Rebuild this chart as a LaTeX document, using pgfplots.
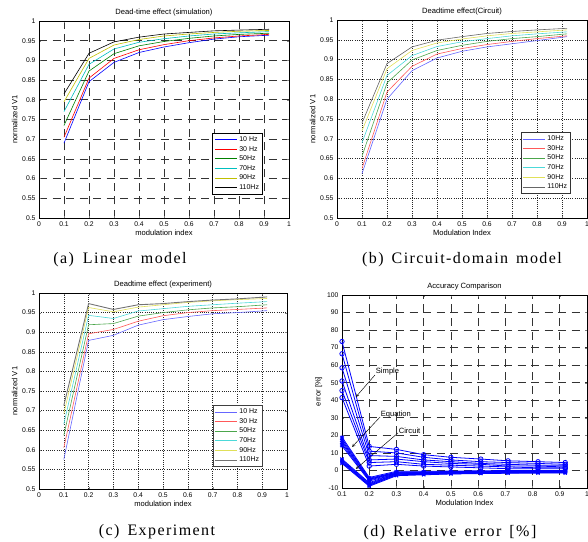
\documentclass[border=0pt]{standalone}
\usepackage{fontspec}
\setmainfont{Liberation Serif}
\newfontfamily\chartfont{Liberation Sans}
\newfontfamily\capfont[LetterSpace=9]{Liberation Serif}
\usepackage{pgfplots}
\pgfplotsset{compat=1.18}

\definecolor{mgreen}{rgb}{0,0.5,0}
\definecolor{mcyan}{rgb}{0,0.75,0.75}
\definecolor{myellow}{rgb}{0.75,0.75,0}
\definecolor{lblue}{rgb}{0.4,0.4,1}
\definecolor{lred}{rgb}{1,0.35,0.35}
\definecolor{lgreen}{rgb}{0.3,0.65,0.3}
\definecolor{lcyan}{rgb}{0.3,0.85,0.85}
\definecolor{lyellow}{rgb}{0.88,0.88,0.35}
\definecolor{lgray}{rgb}{0.4,0.4,0.4}

\pgfplotsset{
  mat/.style={
    scale only axis,
    font=\chartfont\fontsize{7.6}{8.6}\selectfont,
    /pgf/number format/assume math mode=true,
    tick label style={font=\chartfont\fontsize{6.8}{7.5}\selectfont},
    xmin=0, xmax=1, ymin=0.5, ymax=1,
    xtick={0,0.1,0.2,0.3,0.4,0.5,0.6,0.7,0.8,0.9,1},
    ytick={0.5,0.55,0.6,0.65,0.7,0.75,0.8,0.85,0.9,0.95,1},
    yticklabel style={/pgf/number format/fixed},
    tick align=inside,
    major tick length=2pt,
    grid=major,
    axis line style={black, line width=0.5pt},
    title style={yshift=-5pt},
    xlabel style={yshift=3pt},
    ylabel style={yshift=-2pt},
    legend cell align=left,
    legend style={font=\chartfont\fontsize{7}{8}\selectfont, inner sep=1.5pt,
      row sep=-0.8pt},
    legend image code/.code={\draw[#1] (0pt,0pt) -- (22pt,0pt);},
    legend image post style={line width=1pt},
    every axis plot/.append style={line width=0.6pt},
  },
  dashgrid/.style={major grid style={black!80, dash pattern=on 8pt off 5.5pt, line width=0.75pt}},
  dotgrid/.style={major grid style={black!85, dash pattern=on 0.8pt off 1.4pt, line width=0.55pt}},
}

\begin{document}
\begin{tikzpicture}
\path[use as bounding box] (0,0) rectangle (588pt,541pt);
\clip (0,0) rectangle (588pt,541pt);

% (a) linear model
\begin{axis}[mat, dashgrid, at={(39pt,323pt)}, anchor=south west,
  width=250pt, height=197pt,
  title={Dead-time effect (simulation)},
  xlabel={modulation index}, ylabel={normalized V1},
  legend style={at={(0.896,0.117)}, anchor=south east, draw=black, line width=1pt}]
\addplot[blue] coordinates {(0.1,0.690)(0.2,0.846)(0.3,0.895)(0.4,0.920)(0.5,0.934)(0.6,0.945)(0.7,0.954)(0.8,0.960)(0.92,0.964)};
\addlegendentry{10 Hz}
\addplot[red] coordinates {(0.1,0.705)(0.2,0.855)(0.3,0.905)(0.4,0.927)(0.5,0.940)(0.6,0.950)(0.7,0.957)(0.8,0.962)(0.92,0.966)};
\addlegendentry{30 Hz}
\addplot[mgreen] coordinates {(0.1,0.735)(0.2,0.873)(0.3,0.917)(0.4,0.937)(0.5,0.948)(0.6,0.956)(0.7,0.962)(0.8,0.966)(0.92,0.969)};
\addlegendentry{50Hz}
\addplot[mcyan] coordinates {(0.1,0.770)(0.2,0.890)(0.3,0.929)(0.4,0.946)(0.5,0.955)(0.6,0.962)(0.7,0.967)(0.8,0.970)(0.92,0.973)};
\addlegendentry{70Hz}
\addplot[myellow] coordinates {(0.1,0.795)(0.2,0.905)(0.3,0.939)(0.4,0.953)(0.5,0.962)(0.6,0.967)(0.7,0.971)(0.8,0.974)(0.92,0.976)};
\addlegendentry{90Hz}
\addplot[black] coordinates {(0.1,0.815)(0.2,0.918)(0.3,0.947)(0.4,0.959)(0.5,0.967)(0.6,0.971)(0.7,0.975)(0.8,0.977)(0.92,0.979)};
\addlegendentry{110Hz}
\end{axis}

% (b) circuit-domain model
\begin{axis}[mat, dotgrid, at={(337pt,323pt)}, anchor=south west,
  width=250pt, height=198pt,
  title={Deadtime effect(Circuit)},
  xlabel={Modulation Index}, ylabel={normalized V1},
  legend style={at={(0.936,0.121)}, anchor=south east, draw=black!80, line width=0.6pt}]
\addplot[lblue] coordinates {(0.1,0.612)(0.2,0.800)(0.3,0.872)(0.4,0.904)(0.5,0.921)(0.6,0.932)(0.7,0.940)(0.8,0.948)(0.92,0.958)};
\addlegendentry{10Hz}
\addplot[lred] coordinates {(0.1,0.625)(0.2,0.818)(0.3,0.883)(0.4,0.914)(0.5,0.928)(0.6,0.938)(0.7,0.946)(0.8,0.953)(0.92,0.960)};
\addlegendentry{30Hz}
\addplot[lgreen] coordinates {(0.1,0.656)(0.2,0.841)(0.3,0.899)(0.4,0.923)(0.5,0.936)(0.6,0.946)(0.7,0.953)(0.8,0.958)(0.92,0.965)};
\addlegendentry{50Hz}
\addplot[lcyan] coordinates {(0.1,0.690)(0.2,0.860)(0.3,0.910)(0.4,0.933)(0.5,0.945)(0.6,0.953)(0.7,0.960)(0.8,0.965)(0.92,0.970)};
\addlegendentry{70Hz}
\addplot[lyellow] coordinates {(0.1,0.720)(0.2,0.877)(0.3,0.923)(0.4,0.942)(0.5,0.952)(0.6,0.960)(0.7,0.966)(0.8,0.970)(0.92,0.975)};
\addlegendentry{90Hz}
\addplot[lgray] coordinates {(0.1,0.740)(0.2,0.890)(0.3,0.932)(0.4,0.949)(0.5,0.958)(0.6,0.966)(0.7,0.971)(0.8,0.975)(0.92,0.979)};
\addlegendentry{110Hz}
\end{axis}

% (c) experiment
\begin{axis}[mat, dotgrid, at={(39pt,52pt)}, anchor=south west,
  width=248pt, height=196pt,
  title={Deadtime effect (experiment)},
  xlabel={modulation index}, ylabel={normalized V1},
  legend style={at={(0.903,0.112)}, anchor=south east, draw=black!75, line width=0.6pt}]
\addplot[lblue] coordinates {(0.1,0.575)(0.2,0.879)(0.3,0.892)(0.4,0.918)(0.5,0.932)(0.6,0.940)(0.7,0.947)(0.8,0.950)(0.92,0.955)};
\addlegendentry{10 Hz}
\addplot[lred] coordinates {(0.1,0.605)(0.2,0.896)(0.3,0.907)(0.4,0.928)(0.5,0.942)(0.6,0.950)(0.7,0.955)(0.8,0.958)(0.92,0.962)};
\addlegendentry{30 Hz}
\addplot[lgreen] coordinates {(0.1,0.637)(0.2,0.919)(0.3,0.922)(0.4,0.941)(0.5,0.950)(0.6,0.957)(0.7,0.962)(0.8,0.965)(0.92,0.970)};
\addlegendentry{50Hz}
\addplot[lcyan] coordinates {(0.1,0.665)(0.2,0.943)(0.3,0.935)(0.4,0.954)(0.5,0.960)(0.6,0.966)(0.7,0.970)(0.8,0.974)(0.92,0.978)};
\addlegendentry{70Hz}
\addplot[lyellow] coordinates {(0.1,0.692)(0.2,0.963)(0.3,0.952)(0.4,0.964)(0.5,0.970)(0.6,0.976)(0.7,0.980)(0.8,0.983)(0.92,0.986)};
\addlegendentry{90Hz}
\addplot[black!55, line width=0.9pt] coordinates {(0.1,0.713)(0.2,0.973)(0.3,0.958)(0.4,0.970)(0.5,0.973)(0.6,0.978)(0.7,0.982)(0.8,0.985)(0.92,0.990)};
\addlegendentry{110Hz}
\end{axis}

% (d) relative error
\begin{axis}[mat, dashgrid, at={(342pt,53pt)}, anchor=south west,
  width=245pt, height=193pt,
  xmin=0.1, xmax=1, ymin=-10, ymax=100,
  xtick={0.1,0.2,0.3,0.4,0.5,0.6,0.7,0.8,0.9,1},
  ytick={-10,0,10,20,30,40,50,60,70,80,90,100},
  title={Accuracy Comparison},
  xlabel={Modulation Index}, ylabel={error [\%]},
  every axis plot/.append style={blue, line width=0.8pt, mark size=2.2pt},
  clip=false]
% Simple
\addplot[mark=o] coordinates {(0.1,73.5)(0.2,13.7)(0.3,12)(0.4,9)(0.5,7.5)(0.61,6.5)(0.71,5.5)(0.82,5)(0.92,4.5)};
\addplot[mark=o] coordinates {(0.1,66.5)(0.2,11)(0.3,10)(0.4,7.5)(0.5,6)(0.61,5)(0.71,4.5)(0.82,4)(0.92,3.5)};
\addplot[mark=o] coordinates {(0.1,58.5)(0.2,8.5)(0.3,8)(0.4,6)(0.5,5)(0.61,4)(0.71,3.5)(0.82,3)(0.92,3)};
\addplot[mark=o] coordinates {(0.1,51)(0.2,6)(0.3,6.5)(0.4,5)(0.5,4)(0.61,3.5)(0.71,2.5)(0.82,2.5)(0.92,2)};
\addplot[mark=o] coordinates {(0.1,45.5)(0.2,4.5)(0.3,5)(0.4,3.5)(0.5,3)(0.61,2.5)(0.71,2)(0.82,1.5)(0.92,1.5)};
\addplot[mark=o] coordinates {(0.1,41.5)(0.2,2.5)(0.3,3.5)(0.4,2.5)(0.5,2)(0.61,1.5)(0.71,1)(0.82,1)(0.92,1)};
% Equation
\addplot[mark=asterisk] coordinates {(0.1,19)(0.2,-4)(0.3,-0.5)(0.4,-0.5)(0.5,-0.3)(0.61,-0.2)(0.71,0)(0.82,0)(0.92,0)};
\addplot[mark=asterisk] coordinates {(0.1,18)(0.2,-4.5)(0.3,-1)(0.4,-0.8)(0.5,-0.6)(0.61,-0.5)(0.71,-0.3)(0.82,-0.2)(0.92,-0.2)};
\addplot[mark=asterisk] coordinates {(0.1,17)(0.2,-5)(0.3,-1)(0.4,-1)(0.5,-0.8)(0.61,-0.7)(0.71,-0.5)(0.82,-0.4)(0.92,-0.4)};
\addplot[mark=asterisk] coordinates {(0.1,16)(0.2,-5)(0.3,-1.5)(0.4,-1.2)(0.5,-1)(0.61,-0.9)(0.71,-0.7)(0.82,-0.6)(0.92,-0.6)};
\addplot[mark=asterisk] coordinates {(0.1,15)(0.2,-5.5)(0.3,-1.5)(0.4,-1.5)(0.5,-1.2)(0.61,-1)(0.71,-0.9)(0.82,-0.8)(0.92,-0.8)};
\addplot[mark=asterisk] coordinates {(0.1,14)(0.2,-6)(0.3,-2)(0.4,-1.7)(0.5,-1.4)(0.61,-1.2)(0.71,-1)(0.82,-1)(0.92,-1)};
% Circuit
\addplot[mark=x] coordinates {(0.1,6.5)(0.2,-7)(0.3,-1.5)(0.4,-1.2)(0.5,-1)(0.61,-0.8)(0.71,-0.6)(0.82,-0.5)(0.92,-0.5)};
\addplot[mark=x] coordinates {(0.1,6)(0.2,-7.5)(0.3,-2)(0.4,-1.5)(0.5,-1.2)(0.61,-1)(0.71,-0.8)(0.82,-0.7)(0.92,-0.7)};
\addplot[mark=x] coordinates {(0.1,5.5)(0.2,-8)(0.3,-2)(0.4,-1.8)(0.5,-1.5)(0.61,-1.2)(0.71,-1)(0.82,-0.9)(0.92,-0.9)};
\addplot[mark=x] coordinates {(0.1,5)(0.2,-8.5)(0.3,-2.5)(0.4,-2)(0.5,-1.7)(0.61,-1.4)(0.71,-1.2)(0.82,-1.1)(0.92,-1.1)};
\addplot[mark=x] coordinates {(0.1,4.5)(0.2,-8.5)(0.3,-2.5)(0.4,-2.2)(0.5,-1.9)(0.61,-1.6)(0.71,-1.4)(0.82,-1.3)(0.92,-1.3)};
\addplot[mark=x] coordinates {(0.1,4)(0.2,-9)(0.3,-3)(0.4,-2.5)(0.5,-2)(0.61,-1.8)(0.71,-1.6)(0.82,-1.5)(0.92,-1.5)};
\draw[-stealth, line width=0.45pt] (axis cs:0.221,54.4) -- (axis cs:0.151,41.9);
\node[anchor=south west, inner sep=0.5pt] at (axis cs:0.222,54) {Simple};
\draw[-stealth, line width=0.45pt] (axis cs:0.24,30.5) -- (axis cs:0.137,13.4);
\node[anchor=south west, inner sep=0.5pt] at (axis cs:0.240,29.5) {Equation};
\draw[-stealth, line width=0.45pt] (axis cs:0.306,21.4) -- (axis cs:0.151,0.9);
\node[anchor=south west, inner sep=0.5pt] at (axis cs:0.306,20.5) {Circuit};
\end{axis}

% captions
\node[font=\capfont\fontsize{16}{18}\selectfont] at (120pt,281pt) {(a)\hspace{9pt}Linear\hspace{9pt}model};
\node[font=\capfont\fontsize{16}{18}\selectfont] at (462pt,281pt) {(b)\hspace{8pt}Circuit-domain\hspace{8pt}model};
\node[font=\capfont\fontsize{16}{18}\selectfont] at (157pt,9pt) {(c)\hspace{8pt}Experiment};
\node[font=\capfont\fontsize{16}{18}\selectfont] at (450pt,8pt) {(d)\hspace{8pt}Relative\hspace{8pt}error\hspace{8pt}[\%]};
\end{tikzpicture}
\end{document}
